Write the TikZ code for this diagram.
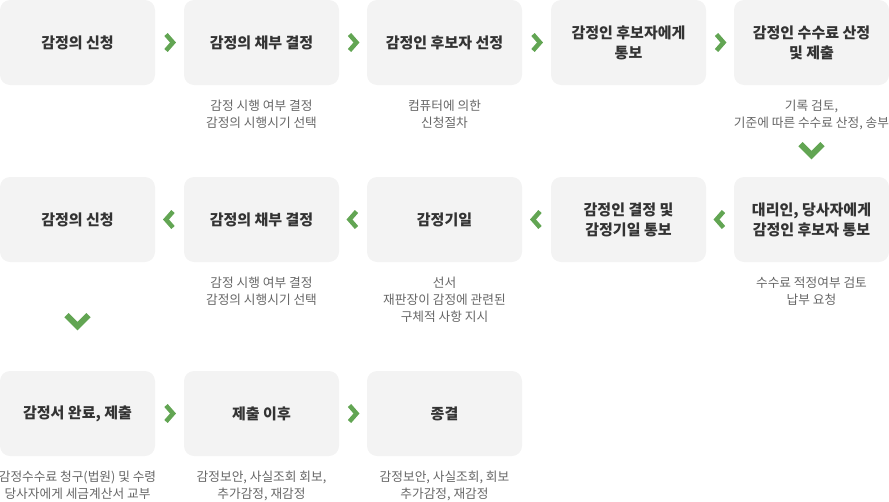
\documentclass[tikz,border=0pt]{standalone}
\usepackage{fontspec}
\setmainfont{Noto Sans CJK KR}
\usepackage{xcolor}
\usetikzlibrary{positioning,calc}
\definecolor{boxgray}{HTML}{F3F3F3}
\definecolor{titlegray}{HTML}{333333}
\definecolor{notegray}{HTML}{666666}
\definecolor{chevgreen}{HTML}{62A553}

\begin{document}
\begin{tikzpicture}[x=1pt,y=-1pt,
  stepbox/.style={fill=boxgray,rounded corners=10pt,minimum width=155pt,
    minimum height=85pt,align=center,text=titlegray,
    font=\fontsize{15}{20}\selectfont\bfseries},
  note/.style={align=center,inner sep=0pt,text=notegray,
    font=\fontsize{12.7}{17}\selectfont},
  chev/.style={draw=chevgreen,line width=4.5pt,line join=miter},
  chevdown/.style={draw=chevgreen,line width=6pt,line join=miter}]
\useasboundingbox (0,0) rectangle (889,501);

% first row
\node[stepbox] (a1) at (77.5,42.5) {감정의 신청};
\node[stepbox] (a2) at (261.5,42.5) {감정의 채부 결정};
\node[stepbox] (a3) at (444.5,42.5) {감정인 후보자 선정};
\node[stepbox] (a4) at (628.5,42.5) {감정인 후보자에게\\통보};
\node[stepbox] (a5) at (811.5,42.5) {감정인 수수료 산정\\및 제출};

\node[note,below=14.5pt of a2] (na2) {감정 시행 여부 결정\\감정의 시행시기 선택};
\node[note,below=14.5pt of a3] (na3) {컴퓨터에 의한\\신청절차};
\node[note,below=14.5pt of a5] (na5) {기록 검토,\\기준에 따른 수수료 산정, 송부};

% second row
\node[stepbox] (b1) at (77.5,219.5) {감정의 신청};
\node[stepbox] (b2) at (261.5,219.5) {감정의 채부 결정};
\node[stepbox] (b3) at (444.5,219.5) {감정기일};
\node[stepbox] (b4) at (628.5,219.5) {감정인 결정 및\\감정기일 통보};
\node[stepbox] (b5) at (811.5,219.5) {대리인, 당사자에게\\감정인 후보자 통보};

\node[note,below=14.5pt of b2] (nb2) {감정 시행 여부 결정\\감정의 시행시기 선택};
\node[note,below=14.5pt of b3] (nb3) {선서\\재판장이 감정에 관련된\\구체적 사항 지시};
\node[note,below=14.5pt of b5] (nb5) {수수료 적정여부 검토\\납부 요청};

% third row
\node[stepbox] (c1) at (77.5,413.5) {감정서 완료, 제출};
\node[stepbox] (c2) at (261.5,413.5) {제출 이후};
\node[stepbox] (c3) at (444.5,413.5) {종결};

\node[note,below=14.5pt of c1] (nc1) {감정수수료 청구(법원) 및 수령\\당사자에게 세금계산서 교부};
\node[note,below=14.5pt of c2] (nc2) {감정보안, 사실조회 회보,\\추가감정, 재감정};
\node[note,below=14.5pt of c3] (nc3) {감정보안, 사실조회, 회보\\추가감정, 재감정};

% chevrons
\foreach \l/\r in {a1/a2,a2/a3,a3/a4,a4/a5,c1/c2,c2/c3}
  \draw[chev] ($(\l.east)!0.5!(\r.west)$) ++(-3.5,-8) -- ++(7,8) -- ++(-7,8);
\foreach \l/\r in {b1/b2,b2/b3,b3/b4,b4/b5}
  \draw[chev] ($(\l.east)!0.5!(\r.west)$) ++(3.5,-8) -- ++(-7,8) -- ++(7,8);
\draw[chevdown] ($(a5.south)+(-11,59)$) -- ++(11,11) -- ++(11,-11);
\draw[chevdown] ($(b1.south)+(-11,53)$) -- ++(11,11) -- ++(11,-11);
\end{tikzpicture}
\end{document}
